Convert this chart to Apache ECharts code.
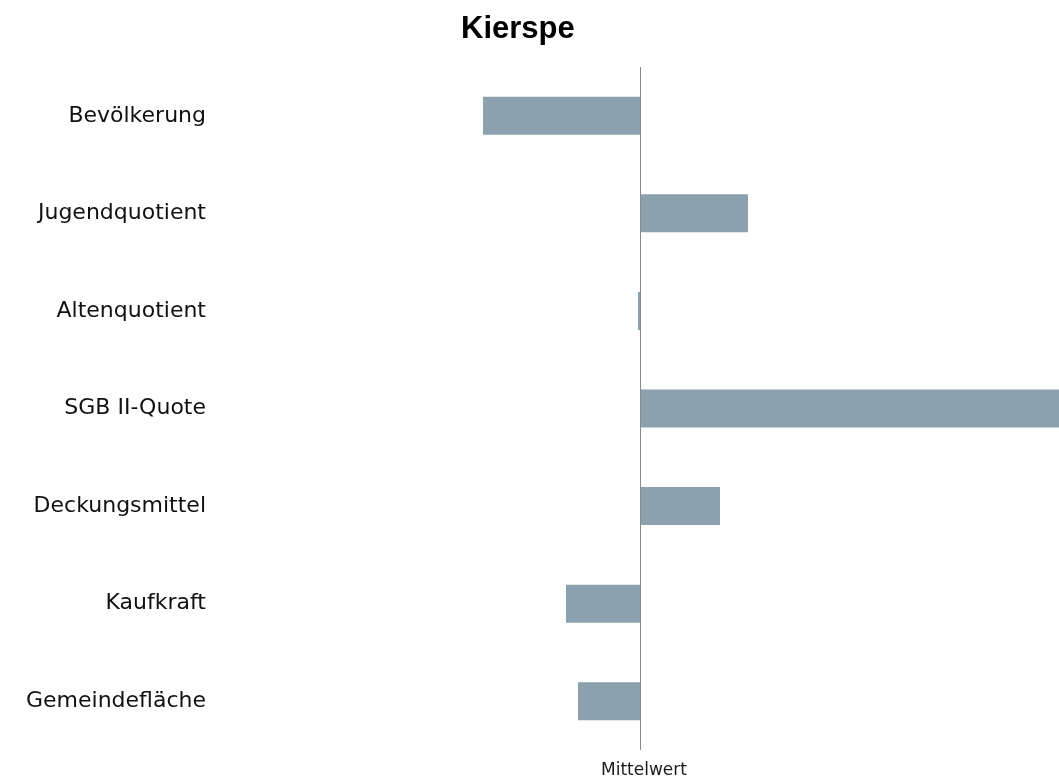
<!DOCTYPE html>
<html>
<head>
<meta charset="utf-8">
<script src="https://cdn.jsdelivr.net/npm/echarts@6/dist/echarts.min.js"></script>
<style>
  html, body { margin: 0; padding: 0; background: #ffffff; overflow: hidden; }
  #chart { width: 1059px; height: 778px; }
</style>
</head>
<body>
<div id="chart"></div>
<script>
// Indicators for Kierspe, as deviation from the mean (Mittelwert = 0)
const chartTitle = 'Kierspe';
const categories = ['Bevölkerung', 'Jugendquotient', 'Altenquotient', 'SGB II-Quote', 'Deckungsmittel', 'Kaufkraft', 'Gemeindefläche'];
const deviations = [-1.57, 1.08, -0.02, 4.3, 0.80, -0.74, -0.62];
const zeroLabel = 'Mittelwert';

const chart = echarts.init(document.getElementById('chart'), null, { renderer: 'canvas', width: 1059, height: 778 });

chart.setOption({
  animation: false,
  backgroundColor: '#ffffff',
  title: {
    text: chartTitle,
    left: 461,
    top: 14,
    padding: 0,
    textStyle: {
      fontFamily: 'Liberation Sans',
      fontWeight: 'bold',
      fontSize: 31,
      color: '#000000'
    }
  },
  // symmetric axis around the mean; the right end runs to the canvas edge
  grid: { left: 220, width: 840, top: 67, bottom: 28, containLabel: false, outerBoundsMode: 'none' },
  xAxis: {
    type: 'value',
    min: -4.2,
    max: 4.2,
    interval: 4.2,
    axisLine: { show: false },
    axisTick: { show: false },
    splitLine: { show: false },
    axisLabel: {
      margin: 12,
      padding: [0, 0, 0, 8],
      fontFamily: 'DejaVu Sans',
      fontSize: 17,
      color: '#1a1a1a',
      formatter: v => (Math.abs(v) < 1e-9 ? zeroLabel : '')
    }
  },
  yAxis: {
    type: 'category',
    data: categories,
    inverse: true,
    axisLine: { show: false },
    axisTick: { show: false },
    splitLine: { show: false },
    axisLabel: {
      margin: 14,
      fontFamily: 'DejaVu Sans',
      fontSize: 22,
      color: '#111111'
    }
  },
  series: [{
    type: 'bar',
    data: deviations,
    barWidth: 38,
    clip: true,
    itemStyle: { color: '#8ba1ad' },
    markLine: {
      silent: true,
      symbol: ['none', 'none'],
      label: { show: false },
      lineStyle: { color: '#8a8a8a', width: 1, type: 'solid' },
      data: [{ xAxis: 0 }]
    }
  }]
});
</script>
</body>
</html>
